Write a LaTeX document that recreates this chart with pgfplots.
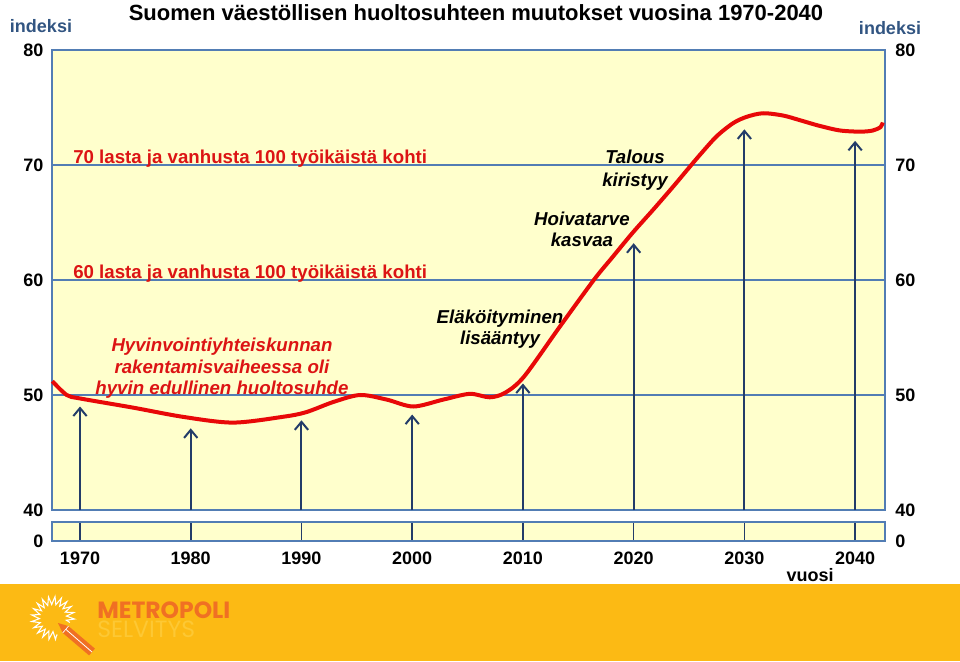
\documentclass[border=0pt]{standalone}
\usepackage{pgfplots}
\pgfplotsset{compat=1.18}
\usepackage{fontspec}
\setmainfont{Liberation Sans}
\newfontfamily\poppins{Poppins}
\usetikzlibrary{arrows.meta,decorations.pathmorphing}
\definecolor{panel}{RGB}{255,255,204}
\definecolor{gridblue}{RGB}{82,125,180}
\definecolor{arrowc}{RGB}{35,60,105}
\definecolor{curvered}{RGB}{232,8,8}
\definecolor{labred}{RGB}{220,20,20}
\definecolor{indblue}{RGB}{50,85,130}
\definecolor{footer}{RGB}{252,186,20}
\definecolor{logoorange}{RGB}{240,112,35}
\definecolor{selv}{RGB}{253,200,52}
\begin{document}
\begin{tikzpicture}[x=0.75pt,y=0.75pt]
\useasboundingbox (0,0) rectangle (960,661);
\fill[white] (0,0) rectangle (960,661);
\fill[footer] (0,0) rectangle (960,77);
% title and side labels
\node[anchor=base, font=\bfseries\fontsize{16.5}{18}\selectfont, inner sep=0] at (476,640) {Suomen väestöllisen huoltosuhteen muutokset vuosina 1970-2040};
\node[anchor=base, font=\bfseries\fontsize{13.5}{15}\selectfont, text=indblue, inner sep=0] at (41,628) {indeksi};
\node[anchor=base, font=\bfseries\fontsize{13.5}{15}\selectfont, text=indblue, inner sep=0] at (890,626) {indeksi};
\node[anchor=base, font=\bfseries\fontsize{13.5}{15}\selectfont, inner sep=0] at (810,80) {vuosi};
% upper panel
\begin{axis}[at={(39pt,113.25pt)}, anchor=south west, scale only axis,
  width=624.75pt, height=345pt,
  xmin=1967.47, xmax=2042.7, ymin=40, ymax=80,
  axis background/.style={fill=panel},
  axis line style={draw=gridblue, line width=1.5pt},
  xtick=\empty, ytick={40,50,60,70,80},
  ymajorgrids, grid style={gridblue, line width=1.1pt},
  major tick length=0pt,
  /pgf/number format/assume math mode=true,
  yticklabel style={font=\bfseries\fontsize{13.5}{15}\selectfont, xshift=-3pt},
  clip=false]
\addplot[arrowc, line width=1.5pt, -{Straight Barb[length=6pt,width=10pt,line width=1.5pt]}] coordinates {(1970,40) (1970,49.0)};
\addplot[arrowc, line width=1.5pt, -{Straight Barb[length=6pt,width=10pt,line width=1.5pt]}] coordinates {(1980,40) (1980,47.1)};
\addplot[arrowc, line width=1.5pt, -{Straight Barb[length=6pt,width=10pt,line width=1.5pt]}] coordinates {(1990,40) (1990,47.8)};
\addplot[arrowc, line width=1.5pt, -{Straight Barb[length=6pt,width=10pt,line width=1.5pt]}] coordinates {(2000,40) (2000,48.3)};
\addplot[arrowc, line width=1.5pt, -{Straight Barb[length=6pt,width=10pt,line width=1.5pt]}] coordinates {(2010,40) (2010,51.0)};
\addplot[arrowc, line width=1.5pt, -{Straight Barb[length=6pt,width=10pt,line width=1.5pt]}] coordinates {(2020,40) (2020,63.2)};
\addplot[arrowc, line width=1.5pt, -{Straight Barb[length=6pt,width=10pt,line width=1.5pt]}] coordinates {(2030,40) (2030,73.1)};
\addplot[arrowc, line width=1.5pt, -{Straight Barb[length=6pt,width=10pt,line width=1.5pt]}] coordinates {(2040,40) (2040,72.1)};
% annotations
\node[anchor=base west, inner sep=0, text=labred, font=\bfseries\fontsize{14}{16}\selectfont] at (axis cs:1969.37,70.17) {70 lasta ja vanhusta 100 työikäistä kohti};
\node[anchor=base west, inner sep=0, text=labred, font=\bfseries\fontsize{14}{16}\selectfont] at (axis cs:1969.37,60.09) {60 lasta ja vanhusta 100 työikäistä kohti};
\node[anchor=base, inner sep=0, text=labred, font=\bfseries\itshape\fontsize{14}{16}\selectfont] at (axis cs:1982.82,53.74) {Hyvinvointiyhteiskunnan};
\node[anchor=base, inner sep=0, text=labred, font=\bfseries\itshape\fontsize{14}{16}\selectfont] at (axis cs:1982.82,51.91) {rakentamisvaiheessa oli};
\node[anchor=base, inner sep=0, text=labred, font=\bfseries\itshape\fontsize{14}{16}\selectfont] at (axis cs:1982.82,50.0) {hyvin edullinen huoltosuhde};
\node[anchor=base, inner sep=0, font=\bfseries\itshape\fontsize{14}{16}\selectfont] at (axis cs:2007.93,56.26) {Eläköityminen};
\node[anchor=base, inner sep=0, font=\bfseries\itshape\fontsize{14}{16}\selectfont] at (axis cs:2007.93,54.35) {lisääntyy};
\node[anchor=base, inner sep=0, font=\bfseries\itshape\fontsize{14}{16}\selectfont] at (axis cs:2015.33,64.78) {Hoivatarve};
\node[anchor=base, inner sep=0, font=\bfseries\itshape\fontsize{14}{16}\selectfont] at (axis cs:2015.33,62.87) {kasvaa};
\node[anchor=base, inner sep=0, font=\bfseries\itshape\fontsize{14}{16}\selectfont] at (axis cs:2020.12,70.09) {Talous};
\node[anchor=base, inner sep=0, font=\bfseries\itshape\fontsize{14}{16}\selectfont] at (axis cs:2020.12,68.17) {kiristyy};
% curve
\addplot[curvered, line width=3pt, smooth, tension=0.5] coordinates {
(1967.5,51.2) (1968.8,50.0) (1970,49.7) (1974.8,48.9) (1979.3,48.1)
(1983.8,47.6) (1988.3,48.1) (1990.4,48.5) (1992.9,49.4) (1995.3,50.0)
(1997.7,49.6) (2000.1,49.0) (2002.8,49.6) (2005.2,50.1) (2007.0,49.8)
(2008.4,50.2) (2010.1,51.6) (2013.3,55.9) (2016.4,60.0) (2018.1,62.0)
(2019.9,64.1) (2021.75,66.1) (2023.55,68.1) (2024.9,69.65) (2026.0,70.9)
(2027.5,72.5) (2029.0,73.65) (2030.24,74.2) (2031.7,74.5) (2033.5,74.3)
(2035.0,73.9) (2036.8,73.4) (2038.65,73.0) (2040.5,72.9) (2041.6,73.0)
(2042.3,73.3) (2042.5,73.7)};
% right labels
\foreach \v in {40,50,60,70,80} {
  \edef\tmp{\noexpand\node[anchor=west, inner sep=0, font=\noexpand\bfseries\noexpand\fontsize{13.5}{15}\noexpand\selectfont] at (axis cs:2042.7,\v) [xshift=7.5pt] {\v};}\tmp
}
\end{axis}
% lower panel
\begin{axis}[at={(39pt,90pt)}, anchor=south west, scale only axis,
  width=624.75pt, height=14.25pt,
  xmin=1967.47, xmax=2042.7, ymin=0, ymax=1,
  axis background/.style={fill=panel},
  axis line style={draw=gridblue, line width=1.5pt},
  xtick={1970,1980,1990,2000,2010,2020,2030,2040}, ytick={0},
  xmajorgrids, grid style={arrowc, line width=1.2pt},
  major tick length=0pt,
  /pgf/number format/assume math mode=true,
  /pgf/number format/1000 sep={},
  xticklabel style={font=\bfseries\fontsize{13.5}{15}\selectfont, yshift=-5pt},
  yticklabel style={font=\bfseries\fontsize{13.5}{15}\selectfont, xshift=-3pt},
  clip=false]
\addplot[draw=none] coordinates {(1970,0) (2040,1)};
\node[anchor=west, inner sep=0, font=\bfseries\fontsize{13.5}{15}\selectfont] at (axis cs:2042.7,0) [xshift=7.5pt] {0};
\end{axis}
% logo
\draw[white, line width=0.8pt, line join=miter, decorate, decoration={zigzag, segment length=4pt, amplitude=3pt}] ([shift={(53,43)}]-15:17.5) arc[start angle=-15, end angle=285, radius=17.5];
\fill[logoorange] (58,38) -- (68.5,34.9) -- (94.9,12.4) -- (89.1,5.6) -- (62.7,28.1) -- cycle;
\draw[white, line width=0.6pt] (66,31.5) -- (92,9);
\draw[white, line width=0.5pt] (68.5,34.9) -- (62.7,28.1);
\node[anchor=base west, inner sep=0, text=logoorange, font=\poppins\bfseries\fontsize{17.6}{19}\selectfont] at (97,43) {METROPOLI};
\node[anchor=base west, inner sep=0, text=selv, font=\poppins\fontsize{17.6}{19}\selectfont] at (97,24) {SELVITYS};
\end{tikzpicture}
\end{document}
